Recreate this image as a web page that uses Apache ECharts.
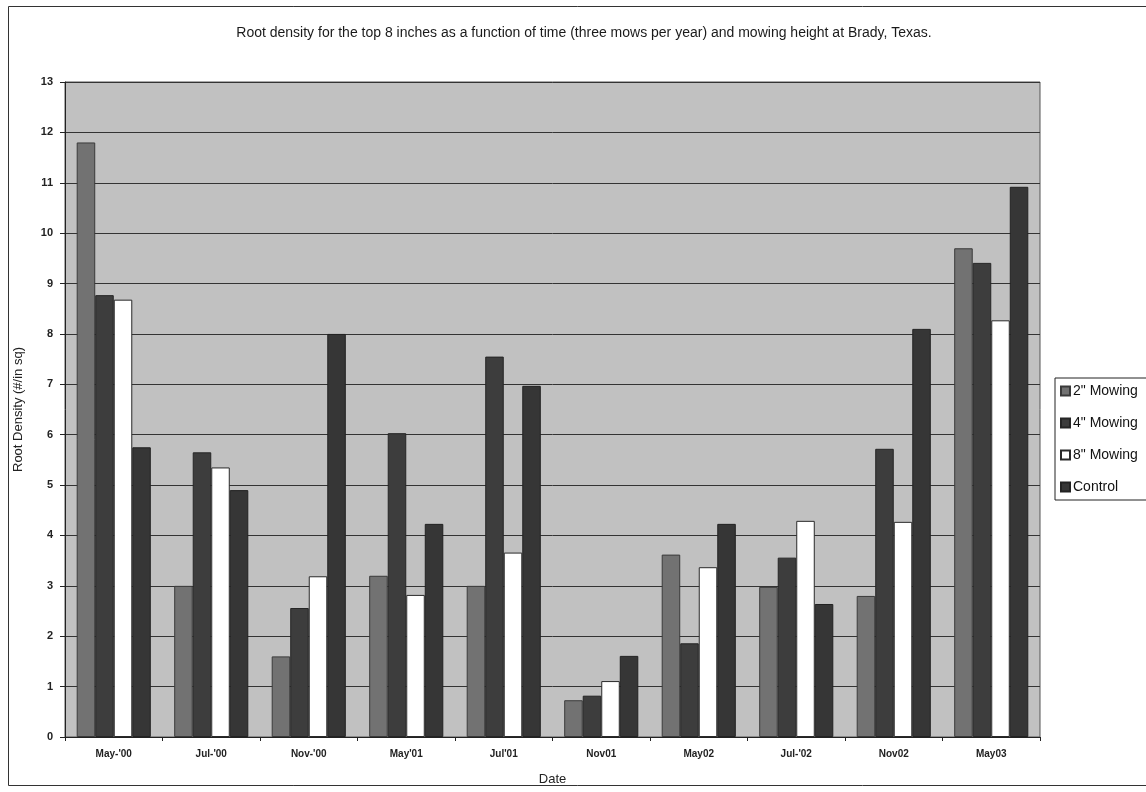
<!DOCTYPE html>
<html>
<head>
<meta charset="utf-8">
<script src="https://cdn.jsdelivr.net/npm/echarts@6/dist/echarts.min.js"></script>
<style>
html,body{margin:0;padding:0;background:#fff;}
#c{width:1146px;height:792px;}
</style>
</head>
<body>
<div id="c"></div>
<script>
const categories = ["May-'00", "Jul-'00", "Nov-'00", "May'01", "Jul'01", "Nov01", "May02", "Jul-'02", "Nov02", "May03"];
const mow2 = [11.8, 3.0, 1.6, 3.2, 3.0, 0.73, 3.62, 2.98, 2.8, 9.7];
const mow4 = [8.77, 5.65, 2.56, 6.03, 7.55, 0.82, 1.86, 3.56, 5.72, 9.41];
const mow8 = [8.68, 5.35, 3.19, 2.82, 3.66, 1.11, 3.37, 4.29, 4.27, 8.27];
const control = [5.75, 4.9, 8.0, 4.23, 6.97, 1.61, 4.23, 2.64, 8.1, 10.92];
const seriesNames = ['2" Mowing', '4" Mowing', '8" Mowing', 'Control'];
const yTicks = [0, 13, 1];

const font = "'Liberation Sans', Arial, sans-serif";
const chart = echarts.init(document.getElementById('c'), null, {renderer: 'canvas'});

function bar(name, data, color, border) {
  return {
    name: name, type: 'bar', data: data,
    barGap: '0%', barCategoryGap: '24%',
    itemStyle: {color: color, borderColor: border, borderWidth: 1},
    emphasis: {disabled: true}
  };
}

chart.setOption({
  animation: false,
  backgroundColor: '#ffffff',
  title: {
    text: 'Root density for the top 8 inches as a function of time (three mows per year) and mowing height at Brady, Texas.',
    left: 579, top: 21, textAlign: 'center',
    textStyle: {fontFamily: font, fontSize: 14, fontWeight: 'normal', color: '#1a1a1a'}
  },
  legend: {
    orient: 'vertical', left: 1055, top: 378,
    itemWidth: 9, itemHeight: 9, itemGap: 18,
    padding: [6, 20, 6, 5],
    borderColor: '#222', borderWidth: 1,
    backgroundColor: '#fff',
    textStyle: {fontFamily: font, fontSize: 14, color: '#111', padding: [0, 0, 0, -2]},
    data: seriesNames.map(n => ({name: n, icon: 'rect'}))
  },
  grid: {left: 65, right: 106, top: 82, bottom: 55, show: true, backgroundColor: '#c1c1c1', borderColor: '#555', borderWidth: 1},
  xAxis: {
    type: 'category', data: categories,
    name: 'Date', nameLocation: 'middle', nameGap: 36,
    nameTextStyle: {fontFamily: font, fontSize: 13, color: '#222'},
    axisLine: {lineStyle: {color: '#222', width: 1}},
    axisTick: {show: true, length: 4, lineStyle: {color: '#222'}},
    axisLabel: {fontFamily: font, fontSize: 10, fontWeight: 'bold', color: '#222', margin: 12}
  },
  yAxis: {
    type: 'value', min: yTicks[0], max: yTicks[1], interval: yTicks[2],
    name: 'Root Density (#/in sq)', nameLocation: 'middle', nameGap: 40,
    nameTextStyle: {fontFamily: font, fontSize: 13, color: '#222'},
    axisLine: {show: true, lineStyle: {color: '#222', width: 1}},
    axisTick: {show: true, length: 5, lineStyle: {color: '#222'}},
    axisLabel: {fontFamily: font, fontSize: 11, fontWeight: 'bold', color: '#222', margin: 12},
    splitLine: {show: true, lineStyle: {color: '#333', width: 1}}
  },
  series: [
    bar(seriesNames[0], mow2, '#727272', '#3a3a3a'),
    bar(seriesNames[1], mow4, '#3d3d3d', '#262626'),
    bar(seriesNames[2], mow8, '#ffffff', '#2a2a2a'),
    bar(seriesNames[3], control, '#363636', '#222222')
  ],
  graphic: [{
    type: 'rect', silent: true, z: 100,
    shape: {x: 8.5, y: 6.5, width: 1150, height: 779},
    style: {fill: 'none', stroke: '#333', lineWidth: 1}
  }]
});
</script>
</body>
</html>
